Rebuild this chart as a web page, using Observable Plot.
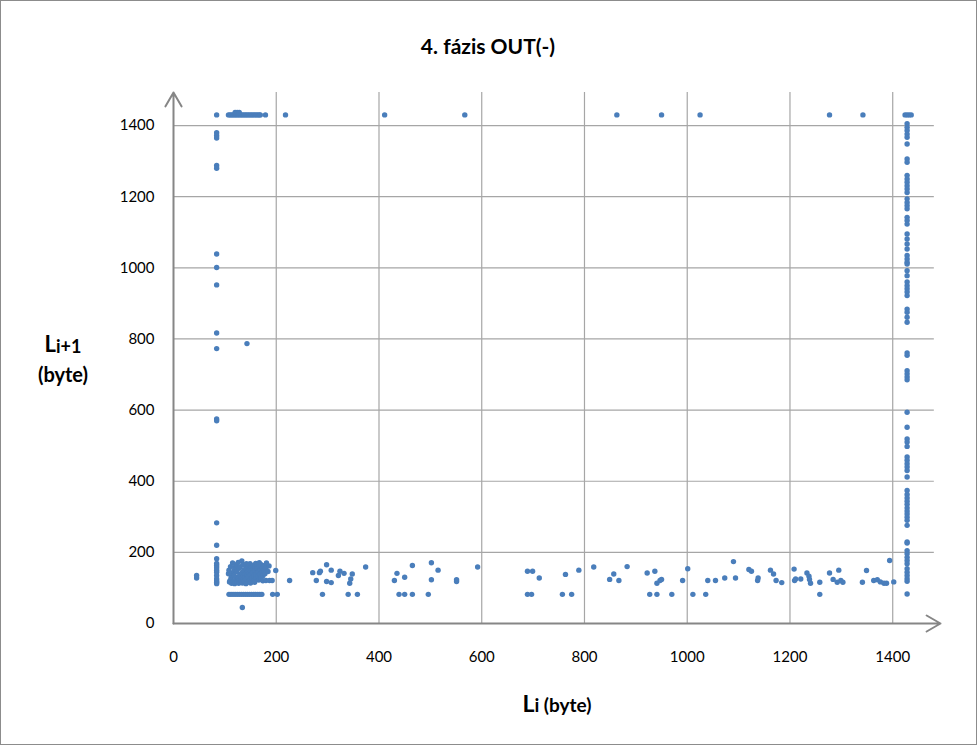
<!DOCTYPE html>
<html>
<head>
<meta charset="utf-8">
<script src="https://cdn.jsdelivr.net/npm/d3@7"></script>
<script src="https://cdn.jsdelivr.net/npm/@observablehq/plot@0.6"></script>
<style>
  html, body { margin: 0; padding: 0; background: #fff; }
  #chart { width: 977px; height: 745px; }
</style>
</head>
<body>
<div id="chart"></div>
<script>
// ---- data (byte sizes: L_i on x, L_{i+1} on y) ----
const titleText = "4. fázis OUT(-)";
const tickValues = [0, 200, 400, 600, 800, 1000, 1200, 1400];

// top row: L_{i+1} ≈ 1430
const topRowX = [84, 107, 110, 113, 116, 119, 122, 125, 128, 131, 134, 137, 140, 143, 146, 149, 152, 155, 158, 161, 164, 167, 169, 179, 218, 411, 567, 863, 950, 1025, 1277, 1342, 1424, 1428, 1432, 1436];
const topRowHighX = [120, 124, 128];

// left column: L_i ≈ 84
const leftColY = [1380, 1372, 1365, 1288, 1280, 1039, 1001, 952, 817, 773, 575, 570, 283, 220, 182, 169, 163, 157, 150, 144, 135, 126, 120, 116, 112];

// right column: L_i ≈ 1428
const rightColY = [1405, 1395, 1386, 1376, 1367, 1348, 1306, 1297, 1260, 1250, 1241, 1231, 1222, 1212, 1194, 1184, 1175, 1166, 1142, 1133, 1123, 1095, 1081, 1067, 1053, 1035, 1025, 1016, 1011, 992, 978, 960, 950, 941, 932, 922, 884, 875, 861, 847, 761, 754, 711, 702, 693, 685, 594, 552, 519, 510, 498, 468, 459, 449, 440, 430, 412, 374, 363, 353, 344, 335, 325, 316, 308, 299, 290, 276, 229, 226, 205, 196, 186, 177, 168, 154, 144, 135, 126, 119, 83];

// dense cluster of small packets (x, y)
const clusterPts = [
  [110,120],[112,128],[114,135],[116,142],[118,150],[120,158],[122,165],[109,117],[113,113],[117,118],
  [121,124],[125,130],[129,137],[133,143],[137,150],[141,156],[145,162],[149,168],[119,112],[124,116],
  [128,121],[132,127],[136,133],[140,139],[144,145],[148,151],[152,157],[156,163],[160,169],[127,113],
  [131,118],[135,123],[139,129],[143,135],[147,141],[151,147],[155,153],[159,159],[163,165],[167,171],
  [134,114],[138,119],[142,125],[146,131],[150,137],[154,143],[158,149],[162,155],[166,161],[170,166],
  [141,112],[145,117],[149,122],[153,128],[157,133],[161,139],[165,145],[169,151],[173,157],[177,163],
  [181,170],[150,114],[156,120],[160,126],[164,132],[168,138],[172,144],[176,150],[180,156],[158,116],
  [166,122],[170,128],[174,134],[178,140],[184,146],[186,162],[115,170],[126,172],[133,176],[142,168],
  [107,140],[108,150],[111,160],[123,146],[128,155],[118,135],[130,160],[136,165],[174,120],[180,121],
  [187,121],[192,121],[199,149],[226,121],[143,787],[134,45],[45,128],[45,135]
];

// bottom row: L_{i+1} ≈ 82
const bottomRowX = [108, 112, 116, 120, 124, 128, 132, 136, 140, 144, 148, 152, 156, 160, 164, 168, 172, 193, 202,
  290, 340, 358, 439, 450, 465, 496, 689, 697, 757, 775, 927, 941, 970, 1011, 1036, 1258];

// scattered mid-size packets (x, y)
const scatterPts = [
  [271,143],[278,121],[284,143],[286,147],[298,165],[307,150],[298,118],[307,115],[324,147],[332,141],
  [321,135],[348,139],[345,125],[343,113],[374,159],[435,141],[430,121],[450,130],[465,163],[502,171],
  [515,150],[502,123],[551,123],[551,118],[592,159],[689,147],[699,147],[712,128],[763,138],[789,150],
  [818,159],[857,139],[849,124],[867,121],[883,160],[922,142],[937,147],[941,113],[947,121],[950,124],
  [991,121],[1001,154],[1040,121],[1055,121],[1073,128],[1090,174],[1094,128],[1120,152],[1125,147],
  [1138,128],[1137,121],[1162,150],[1168,139],[1173,121],[1184,115],[1208,153],[1211,125],[1221,125],
  [1209,121],[1233,142],[1237,133],[1240,113],[1238,124],[1258,116],[1277,142],[1284,124],[1292,116],
  [1299,121],[1295,150],[1303,116],[1341,116],[1349,149],[1363,121],[1370,123],[1376,117],[1383,113],
  [1388,113],[1394,177],[1402,117]
];

// ---- assemble ----
const pts = [];
topRowX.forEach(x => pts.push({x, y: 1430}));
topRowHighX.forEach(x => pts.push({x, y: 1437}));
leftColY.forEach(y => pts.push({x: 84, y}));
rightColY.forEach(y => pts.push({x: 1428, y}));
clusterPts.forEach(([x, y]) => pts.push({x, y}));
bottomRowX.forEach(x => pts.push({x, y: 82}));
scatterPts.forEach(([x, y]) => pts.push({x, y}));

const maxV = 1493;
const font = "Lato, 'Open Sans', sans-serif";
const gridColor = "#a6a6a6";
const axisColor = "#868686";

const plot = Plot.plot({
  width: 977,
  height: 745,
  marginLeft: 173,
  marginRight: 37,
  marginTop: 92,
  marginBottom: 122,
  style: { fontFamily: font, fontSize: "15px", color: "#000", background: "#fff" },
  x: { domain: [0, maxV], label: null },
  y: { domain: [0, maxV], label: null },
  marks: [
    Plot.ruleX(tickValues.slice(1), { stroke: gridColor, strokeWidth: 1.2 }),
    Plot.ruleY(tickValues.slice(1), { stroke: gridColor, strokeWidth: 1.2, x1: 0, x2: maxV - 12 }),
    Plot.axisX({ ticks: tickValues, tickSize: 0, tickPadding: 28, tickFormat: d => String(d), fontSize: 15 }),
    Plot.axisY({ ticks: tickValues, tickSize: 0, tickPadding: 19, tickFormat: d => String(d), fontSize: 15 }),
    Plot.arrow([{ x1: 0, y1: 0, x2: maxV, y2: 0 }], { x1: "x1", y1: "y1", x2: "x2", y2: "y2", stroke: axisColor, strokeWidth: 2, headLength: 12 }),
    Plot.arrow([{ x1: 0, y1: 0, x2: 0, y2: maxV }], { x1: "x1", y1: "y1", x2: "x2", y2: "y2", stroke: axisColor, strokeWidth: 2, headLength: 12 }),
    Plot.dot(pts, { x: "x", y: "y", r: 2.7, fill: "#4a7ebb", stroke: "none" })
  ]
});

const svg = d3.select(plot);
// outer frame
svg.insert("rect", ":first-child")
  .attr("x", 0.5).attr("y", 0.5).attr("width", 976).attr("height", 744)
  .attr("fill", "#fff").attr("stroke", "#8c8c8c").attr("stroke-width", 1);

// title
svg.append("text")
  .attr("x", 488).attr("y", 54)
  .attr("text-anchor", "middle")
  .attr("font-family", font).attr("font-weight", "bold").attr("font-size", 21)
  .attr("fill", "#000")
  .text(titleText);

// y-axis title: L_{i+1} (byte)
const yt = svg.append("text")
  .attr("x", 63).attr("y", 352)
  .attr("text-anchor", "middle")
  .attr("font-family", font).attr("font-weight", "bold").attr("fill", "#000");
yt.append("tspan").attr("font-size", 22).text("L");
yt.append("tspan").attr("font-size", 18).attr("dy", 1).text("i+1");
svg.append("text")
  .attr("x", 63).attr("y", 382)
  .attr("text-anchor", "middle")
  .attr("font-family", font).attr("font-weight", "bold").attr("font-size", 20).attr("fill", "#000")
  .text("(byte)");

// x-axis title: L_i (byte)
const xt = svg.append("text")
  .attr("x", 557).attr("y", 712)
  .attr("text-anchor", "middle")
  .attr("font-family", font).attr("font-weight", "bold").attr("fill", "#000");
xt.append("tspan").attr("font-size", 23).text("L");
xt.append("tspan").attr("font-size", 19).text("i (byte)");

document.getElementById("chart").appendChild(plot);
</script>
</body>
</html>
